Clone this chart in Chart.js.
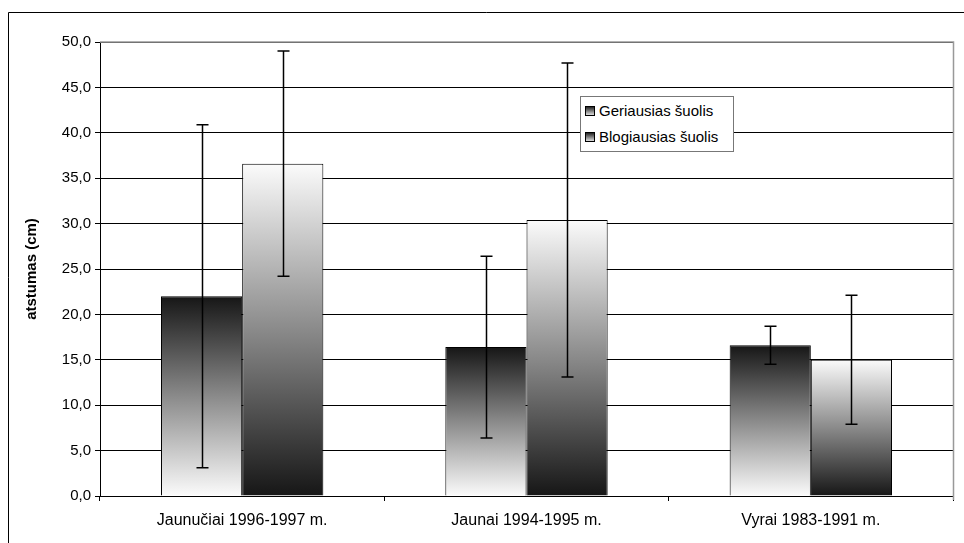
<!DOCTYPE html>
<html>
<head>
<meta charset="utf-8">
<script src="https://cdn.jsdelivr.net/npm/chart.js@4"></script>
<style>
    html, body { margin: 0; padding: 0; background: #fff; }
    #wrap { position: relative; width: 964px; height: 543px; }
    #legend {
        position: absolute; left: 580px; top: 96px; width: 154px; height: 56px;
        border: 1px solid #777; background: #fff; box-sizing: border-box;
        font-family: "Liberation Sans", Arial, sans-serif; font-size: 15px; color: #000;
    }
    .lg-item { position: absolute; left: 4px; display: flex; align-items: center; white-space: nowrap; }
    .lg-box { width: 8px; height: 8px; border: 1px solid #000; margin-right: 4px;
        background: linear-gradient(#222, #ddd); }
</style>
</head>
<body>
<div id="wrap">
    <canvas id="chart" width="964" height="543"></canvas>
    <div id="legend"></div>
</div>
<script>
// ─── Data ─────────────────────────────────────────────────────────────────────
const CATEGORIES = ["Jaunučiai 1996-1997 m.", "Jaunai 1994-1995 m.", "Vyrai 1983-1991 m."];
const SERIES_NAMES = ["Geriausias šuolis", "Blogiausias šuolis"];
const BEST = [22.0, 16.4, 16.6];
const BEST_ERR = [18.9, 10.0, 2.1];
const WORST = [36.6, 30.4, 15.0];
const WORST_ERR = [12.4, 17.3, 7.1];
const Y_TICKS = [0, 5, 10, 15, 20, 25, 30, 35, 40, 45, 50];

const FONT = "'Liberation Sans', Arial, sans-serif";

// gradient per bar, darkTop = dark at the top of the bar
function barGradient(ctx, darkTop) {
    const chart = ctx.chart;
    if (!chart.chartArea || ctx.type !== "data") return "#888";
    const y = chart.scales.y;
    const top = y.getPixelForValue(ctx.raw);
    const bottom = y.getPixelForValue(0);
    const g = chart.ctx.createLinearGradient(0, top, 0, bottom);
    const dark = "#161616", mid = "#8a8a8a", light = "#fbfbfb";
    g.addColorStop(0, darkTop ? dark : light);
    g.addColorStop(0.5, mid);
    g.addColorStop(1, darkTop ? light : dark);
    return g;
}

// ─── Plugins ──────────────────────────────────────────────────────────────────
const framePlugin = {
    id: "frame",
    beforeDraw(chart) {
        const c = chart.ctx;
        c.save();
        c.strokeStyle = "#000";
        c.lineWidth = 1;
        c.beginPath();
        c.moveTo(8.5, 543);
        c.lineTo(8.5, 12.5);
        c.lineTo(964, 12.5);
        c.stroke();
        c.restore();
    },
    afterDraw(chart) {
        const a = chart.chartArea;
        const c = chart.ctx;
        c.save();
        c.strokeStyle = "#999";
        c.lineWidth = 1.5;
        c.beginPath();
        c.moveTo(a.left, a.top);
        c.lineTo(a.right + 0.5, a.top);
        c.lineTo(a.right + 0.5, a.bottom + 4);
        c.stroke();
        c.restore();
    },
};

const errorBarPlugin = {
    id: "errorBars",
    afterDatasetsDraw(chart) {
        const errs = [BEST_ERR, WORST_ERR];
        const y = chart.scales.y;
        const c = chart.ctx;
        c.save();
        c.strokeStyle = "#000";
        c.lineWidth = 1.5;
        chart.data.datasets.forEach((ds, di) => {
            chart.getDatasetMeta(di).data.forEach((bar, i) => {
                const v = ds.data[i], e = errs[di][i];
                const x = Math.round(bar.x) + 0.5;
                const yTop = y.getPixelForValue(v + e);
                const yBot = y.getPixelForValue(v - e);
                c.beginPath();
                c.moveTo(x, yTop); c.lineTo(x, yBot);
                c.moveTo(x - 6, yTop); c.lineTo(x + 6, yTop);
                c.moveTo(x - 6, yBot); c.lineTo(x + 6, yBot);
                c.stroke();
            });
        });
        c.restore();
    },
};

// ─── Chart ────────────────────────────────────────────────────────────────────
const chart = new Chart(document.getElementById("chart"), {
    type: "bar",
    data: {
        labels: CATEGORIES,
        datasets: [
            { label: SERIES_NAMES[0], data: BEST, backgroundColor: (ctx) => barGradient(ctx, true),
              borderColor: "#000", borderWidth: 1 },
            { label: SERIES_NAMES[1], data: WORST, backgroundColor: (ctx) => barGradient(ctx, false),
              borderColor: "#000", borderWidth: 1 },
        ],
    },
    options: {
        responsive: false,
        animation: false,
        events: [],
        layout: { padding: { top: 42, right: 11, left: 0, bottom: 0 } },
        datasets: { bar: { categoryPercentage: 0.571, barPercentage: 1 } },
        plugins: { legend: { display: false }, tooltip: { enabled: false } },
        scales: {
            x: {
                afterFit: (s) => { s.height = 47; },
                grid: { drawOnChartArea: false, drawTicks: true, tickLength: 5, color: "#000" },
                border: { color: "#000", width: 1 },
                ticks: { color: "#000", padding: 10, font: { family: FONT, size: 16 } },
            },
            y: {
                min: 0,
                max: 50,
                afterFit: (s) => { s.width = 100; },
                afterBuildTicks: (s) => { s.ticks = Y_TICKS.map((v) => ({ value: v })); },
                grid: { color: "#000", lineWidth: 1, tickLength: 5 },
                border: { color: "#000", width: 1 },
                ticks: {
                    color: "#000", padding: 4, font: { family: FONT, size: 15 },
                    callback: (v) => v.toFixed(1).replace(".", ","),
                },
                title: {
                    display: true, text: "atstumas (cm)", color: "#000",
                    font: { family: FONT, size: 15, weight: "bold" }, padding: { top: 23, bottom: 0 },
                },
            },
        },
    },
    plugins: [framePlugin, errorBarPlugin],
});

// ─── Legend ───────────────────────────────────────────────────────────────────
const legend = document.getElementById("legend");
chart.data.datasets.forEach((ds, i) => {
    const item = document.createElement("div");
    item.className = "lg-item";
    item.style.top = (5 + i * 26) + "px";
    const box = document.createElement("span");
    box.className = "lg-box";
    const txt = document.createElement("span");
    txt.textContent = ds.label;
    item.appendChild(box);
    item.appendChild(txt);
    legend.appendChild(item);
});
</script>
</body>
</html>
